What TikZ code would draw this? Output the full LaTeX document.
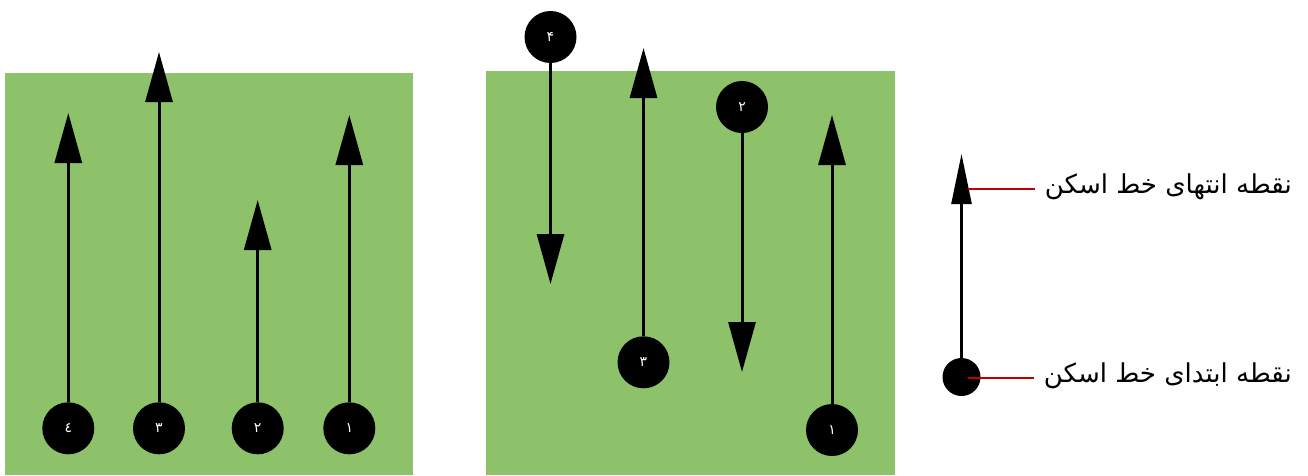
\documentclass[tikz,border=0pt]{standalone}
\usepackage{fontspec}
\usetikzlibrary{arrows.meta,positioning}
\TeXXeTstate=1
\newfontfamily\arabicfont[Script=Arabic]{DejaVu Sans}
\definecolor{field}{RGB}{141,194,107}
\definecolor{leadred}{RGB}{192,0,0}
\tikzset{
  disc/.style={circle,fill=black,minimum size=52pt,inner sep=0pt,text=white,
    font=\arabicfont\fontsize{14}{14}\selectfont},
  ldisc/.style={circle,fill=black,minimum size=38pt,inner sep=0pt},
  scanline/.style={-{Triangle[length=50pt,width=27pt]},line width=3pt},
  lscan/.style={-{Triangle[length=50pt,width=20pt]},line width=2.5pt},
  leader/.style={draw=leadred,line width=2pt,shorten >=6pt},
  caption/.style={font=\arabicfont\fontsize{26}{30}\selectfont,anchor=east,inner sep=4pt},
}

\begin{document}
\begin{tikzpicture}[x=1pt,y=-1pt]
  \useasboundingbox (0,0) rectangle (1308,475);
  % fields
  \fill[field] (5,72.7) rectangle (413,475);
  \fill[field] (486,70.7) rectangle (895,475);

  % left field: every scan line runs upward
  \node[disc] (a1) at (349.3,428.3) {۱};
  \node[disc] (a2) at (257.7,428.3) {۲};
  \node[disc] (a3) at (159,428.3) {۳};
  \node[disc] (a4) at (68.3,428.3) {٤};
  \coordinate (a1e) at (349.3,115);
  \coordinate (a2e) at (257.7,200);
  \coordinate (a3e) at (159,52);
  \coordinate (a4e) at (68.3,113);
  \draw[scanline] (a1) -- (a1e);
  \draw[scanline] (a2) -- (a2e);
  \draw[scanline] (a3) -- (a3e);
  \draw[scanline] (a4) -- (a4e);

  % right field: lines run up and down in turn
  \node[disc] (b1) at (832,430) {۱};
  \node[disc] (b2) at (742,107) {۲};
  \node[disc] (b3) at (643.5,362.3) {۳};
  \node[disc] (b4) at (550.5,37) {۴};
  \coordinate (b1e) at (832,115);
  \coordinate (b2e) at (742,372);
  \coordinate (b3e) at (643.5,48);
  \coordinate (b4e) at (550.5,284);
  \draw[scanline] (b1) -- (b1e);
  \draw[scanline] (b2) -- (b2e);
  \draw[scanline] (b3) -- (b3e);
  \draw[scanline] (b4) -- (b4e);

  % legend
  \node[ldisc] (ls) at (961.5,377) {};
  \coordinate (le) at (961.5,154);
  \draw[lscan] (ls) -- (le);
  \node[caption] (c1) at (1296,187) {\beginR نقطه انتهای خط اسکن\endR};
  \node[caption] (c2) at (1296,375.5) {\beginR نقطه ابتدای خط اسکن\endR};
  \coordinate (l1) at (968,189);
  \coordinate (l2) at (968,377.5);
  \draw[leader] (l1) -- (l1 -| c1.west);
  \draw[leader] (l2) -- (l2 -| c2.west);
\end{tikzpicture}
\end{document}
